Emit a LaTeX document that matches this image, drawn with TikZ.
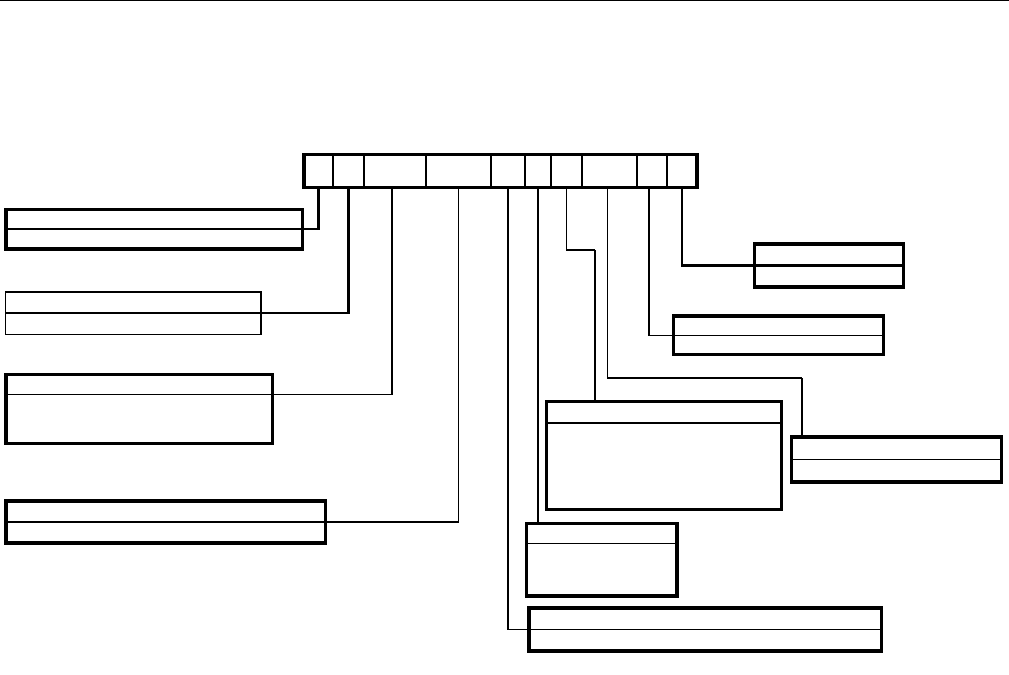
\documentclass[tikz,border=0pt]{standalone}
\usepackage{tikz}

\begin{document}
\begin{tikzpicture}[
      cell/.style={
        draw,
        line width=0.55pt,
        minimum height=0.325cm,
        inner sep=0pt,
        outer sep=0pt
      },
      field/.style={
        draw,
        line width=0.9pt,
        inner sep=0pt,
        outer sep=0pt
      },
      plainfield/.style={field, line width=0.45pt},
      lead/.style={line width=0.35pt},
      heavy/.style={line width=0.6pt},
      frame/.style={line width=0.95pt}
    ]
      \useasboundingbox (0,0) rectangle (10.09,-6.75);

      % Top rule
      \draw[lead] (0,-0.006) -- (10.09,-0.006);

      % Register cells
      \node[cell, minimum width=0.29cm] (c1) at (3.185,-1.71) {};
      \node[cell, minimum width=0.31cm] (c2) at (3.485,-1.71) {};
      \node[cell, minimum width=0.62cm] (c3) at (3.95,-1.71) {};
      \node[cell, minimum width=0.65cm] (c4) at (4.585,-1.71) {};
      \node[cell, minimum width=0.34cm] (c5) at (5.08,-1.71) {};
      \node[cell, minimum width=0.26cm] (c6) at (5.38,-1.71) {};
      \node[cell, minimum width=0.31cm] (c7) at (5.665,-1.71) {};
      \node[cell, minimum width=0.55cm] (c8) at (6.095,-1.71) {};
      \node[cell, minimum width=0.30cm] (c9) at (6.52,-1.71) {};
      \node[cell, minimum width=0.30cm] (c10) at (6.82,-1.71) {};
      \draw[frame] (c1.north west) rectangle (c10.south east);

      % Left fields
      \node[field, minimum width=2.965cm, minimum height=0.395cm] (b1) at (1.5425,-2.2925) {};
      \node[plainfield, minimum width=2.555cm, minimum height=0.425cm] (b2) at (1.3325,-3.1325) {};
      \node[field, minimum width=2.665cm, minimum height=0.69cm] (b3) at (1.3925,-4.09) {};
      \node[field, minimum width=3.195cm, minimum height=0.42cm] (b4) at (1.6575,-5.22) {};

      % Right fields
      \node[field, minimum width=1.49cm, minimum height=0.43cm] (b5) at (8.29,-2.655) {};
      \node[field, minimum width=2.10cm, minimum height=0.385cm] (b6) at (7.785,-3.3525) {};
      \node[field, minimum width=2.35cm, minimum height=1.08cm] (b7) at (6.64,-4.555) {};
      \node[field, minimum width=2.10cm, minimum height=0.45cm] (b8) at (8.965,-4.595) {};
      \node[field, minimum width=1.505cm, minimum height=0.725cm] (b9) at (6.0175,-5.5975) {};
      \node[field, minimum width=3.525cm, minimum height=0.43cm] (b10) at (7.0525,-6.295) {};

      % Bends and divider levels
      \coordinate (k3) at (0,-3.943);
      \coordinate (k7) at (5.95,-2.50);
      \coordinate (k8) at (8.02,-3.78);
      \coordinate (m7) at (0,-4.23);
      \coordinate (m9) at (0,-5.433);

      % Leaders
      \draw[heavy] (c1.south) |- (b1.west);
      \draw[heavy] (c2.south) |- (b2.west);
      \draw[lead] ([xshift=-0.03cm]c3.south) |- (b3.west |- k3);
      \draw[lead] (c4.south) |- (b4.west);
      \draw[lead] (c5.south) |- (b10.east);
      \draw[lead] (c6.south) -- (c6.south |- b9.north);
      \draw[lead] (c7.south) |- (k7);
      \draw[heavy] (k7) -- (k7 |- b7.north);
      \draw[lead] ([xshift=-0.02cm]c8.south) |- (k8);
      \draw[heavy] (k8) -- (k8 |- b8.north);
      \draw[lead] ([xshift=-0.03cm]c9.south) |- (b6.east);
      \draw[heavy] (c10.south) |- (b5.east);

      % Dividers
      \draw[lead] (b7.west |- m7) -- (b7.east |- m7);
      \draw[lead] (b9.west |- m9) -- (b9.east |- m9);
      \draw[lead] (b8.west) -- (b8.east);
    \end{tikzpicture}
\end{document}
